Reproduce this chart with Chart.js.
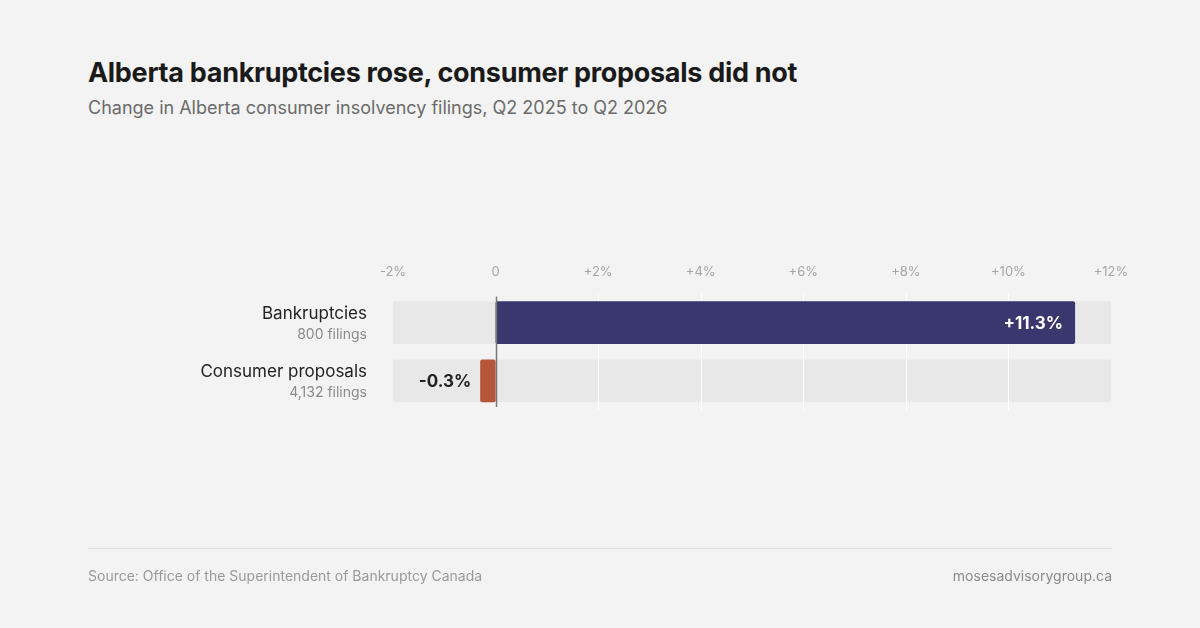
<!DOCTYPE html>
<html><head><meta charset="utf-8">
<script src="https://cdn.jsdelivr.net/npm/chart.js@4/dist/chart.umd.min.js"></script>
<style>
body{margin:0;width:1200px;height:628px;background:#f3f3f3;font-family:Inter,"Noto Sans",sans-serif;position:relative;overflow:hidden}
#t{position:absolute;left:88px;top:56px;font-size:27px;font-weight:700;color:#1a1a1a;letter-spacing:-0.3px}
#s{position:absolute;left:88px;top:97px;font-size:18px;color:#6b6b6b}
#wrap{position:absolute;left:0;top:0;width:1200px;height:628px}
#rule{position:absolute;left:88px;top:548px;width:1024px;height:1px;background:#dedede}
#src{position:absolute;left:88px;top:567px;font-size:14px;color:#9a9a9a}
#url{position:absolute;right:88px;top:567px;font-size:14px;color:#8a8a8a}
</style></head><body>
<div id="t">Alberta bankruptcies rose, consumer proposals did not</div>
<div id="s">Change in Alberta consumer insolvency filings, Q2 2025 to Q2 2026</div>
<div id="wrap"><canvas id="c"></canvas></div>
<div id="rule"></div>
<div id="src">Source: Office of the Superintendent of Bankruptcy Canada</div>
<div id="url">mosesadvisorygroup.ca</div>
<script>
const categories=["Bankruptcies","Consumer proposals"];
const filings=["800 filings","4,132 filings"];
const changes=[11.3,-0.3];
const valueLabels=["+11.3%","-0.3%"];
const tickValues=[-2,0,2,4,6,8,10,12];
const barColors=["#3a376f","#b5553a"];
const F="Inter, 'Noto Sans', sans-serif";
const deco={id:'deco',
beforeDatasetsDraw(ch){const {ctx,chartArea:a,scales:{x,y}}=ch;const meta=ch.getDatasetMeta(0);
 ctx.save();
 meta.data.forEach(b=>{ctx.fillStyle="#e8e8e8";ctx.fillRect(a.left,b.y-b.height/2,a.right-a.left,b.height);});
 ctx.strokeStyle="#ffffff";ctx.lineWidth=1;
 tickValues.forEach(v=>{if(v===0||v===-2||v===12)return;const px=Math.round(x.getPixelForValue(v))+0.5;ctx.beginPath();ctx.moveTo(px,a.top);ctx.lineTo(px,a.bottom);ctx.stroke();});
 ctx.restore();},
afterDatasetsDraw(ch){const {ctx,chartArea:a,scales:{x}}=ch;const meta=ch.getDatasetMeta(0);
 ctx.save();
 const zx=Math.round(x.getPixelForValue(0))+0.5;ctx.strokeStyle="#777";ctx.lineWidth=1.5;ctx.beginPath();ctx.moveTo(zx,a.top+3);ctx.lineTo(zx,a.bottom-3);ctx.stroke();
 meta.data.forEach((b,i)=>{
  ctx.textBaseline="middle";ctx.font="700 17px "+F;
  if(changes[i]>=0){ctx.fillStyle="#fff";ctx.textAlign="right";ctx.fillText(valueLabels[i],b.x-12,b.y+1);}
  else{ctx.fillStyle="#222";ctx.textAlign="right";ctx.fillText(valueLabels[i],b.x-9,b.y+1);}
  ctx.textAlign="right";ctx.fillStyle="#222";ctx.font="17px "+F;ctx.fillText(categories[i],367,b.y-9);
  ctx.fillStyle="#8a8a8a";ctx.font="14px "+F;ctx.fillText(filings[i],367,b.y+12);
 });
 ctx.restore();}};
new Chart(document.getElementById('c'),{type:'bar',
data:{labels:categories,datasets:[{data:changes,backgroundColor:barColors,barPercentage:44/60,categoryPercentage:1,borderRadius:2,borderSkipped:false}]},
options:{indexAxis:'y',responsive:true,maintainAspectRatio:false,animation:false,
layout:{padding:{left:393,right:89,top:258,bottom:218}},
plugins:{legend:{display:false},tooltip:{enabled:false}},
scales:{x:{position:'top',min:-2,max:12,grid:{display:false},border:{display:false},
 afterBuildTicks(s){s.ticks=tickValues.map(v=>({value:v}));},
 ticks:{color:"#a5a5a5",font:{family:F,size:13},padding:6,callback:v=>v===0?"0":(v>0?"+"+v+"%":v+"%")}},
 y:{display:false}}},
plugins:[deco]});
</script></body></html>
